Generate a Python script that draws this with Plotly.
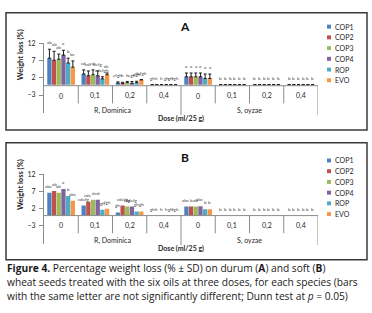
import plotly.graph_objects as go

W, H = 372, 313

categories = ["0", "0,1", "0,2", "0,4", "0", "0,1", "0,2", "0,4"]
groups = ["R, Dominica", "S, oyzae"]
series = ["COP1", "COP2", "COP3", "COP4", "ROP", "EVO"]
colors = ["#4F81BD", "#C0504D", "#9BBB59", "#8064A2", "#4BACC6", "#F79646"]
yticks = [-3, 2, 7, 12]

# Panel A (durum) values and +SD
a_cop1 = [7.7, 3.1, 0.5, 0, 2.3, 0, 0, 0]
a_cop2 = [7.1, 2.6, 0.4, 0, 2.3, 0, 0, 0]
a_cop3 = [7.4, 2.9, 0.6, 0, 2.3, 0, 0, 0]
a_cop4 = [8.6, 2.6, 0.4, 0, 2.3, 0, 0, 0]
a_rop = [6.3, 1.7, 0.6, 0, 1.8, 0, 0, 0]
a_evo = [5.1, 2.9, 1.4, 0, 1.8, 0, 0, 0]

a_sd_cop1 = [2.6, 1.2, 0.3, 0, 1.1, 0, 0, 0]
a_sd_cop2 = [2.6, 1.4, 0.3, 0, 1.1, 0, 0, 0]
a_sd_cop3 = [1.5, 1.4, 0.3, 0, 1.1, 0, 0, 0]
a_sd_cop4 = [1.4, 1.4, 0.5, 0, 1.1, 0, 0, 0]
a_sd_rop = [1.4, 0.6, 0.4, 0, 1.3, 0, 0, 0]
a_sd_evo = [1.8, 0.5, 0.1, 0, 1.3, 0, 0, 0]

a_let_cop1 = ["ab", "cd", "efgh", "gh", "a", "b", "b", "b"]
a_let_cop2 = ["ab", "cdf", "h", "h", "a", "b", "b", "b"]
a_let_cop3 = ["ab", "d", "h", "h", "a", "b", "b", "b"]
a_let_cop4 = ["a", "defg", "egh", "gh", "a", "b", "b", "b"]
a_let_rop = ["b", "cdefgh", "egh", "gh", "a", "b", "b", "b"]
a_let_evo = ["bc", "de", "defgh", "fgh", "a", "b", "b", "b"]

# Panel B (soft) values
b_cop1 = [6.6, 2.9, 0.9, 0, 2.6, 0, 0, 0]
b_cop2 = [7.1, 4.0, 2.9, 0, 2.6, 0, 0, 0]
b_cop3 = [6.6, 4.6, 2.6, 0, 2.6, 0, 0, 0]
b_cop4 = [7.7, 4.6, 2.6, 0, 2.7, 0, 0, 0]
b_rop = [5.7, 1.7, 1.2, 0, 1.8, 0, 0, 0]
b_evo = [4.3, 2.0, 1.2, 0, 1.8, 0, 0, 0]

b_let_cop1 = ["abc", "cdefg", "gh", "gh", "abc", "b", "b", "b"]
b_let_cop2 = ["ab", "cde", "cdefg", "h", "b", "b", "b", "b"]
b_let_cop3 = ["ab", "d", "cfg", "h", "ab", "b", "b", "b"]
b_let_cop4 = ["a", "cd", "cdefg", "h", "abc", "b", "b", "b"]
b_let_rop = ["b", "gh", "gh", "gh", "b", "b", "b", "b"]
b_let_evo = ["abc", "fgh", "gh", "fgh", "b", "b", "b", "b"]

A_vals = [a_cop1, a_cop2, a_cop3, a_cop4, a_rop, a_evo]
A_sds = [a_sd_cop1, a_sd_cop2, a_sd_cop3, a_sd_cop4, a_sd_rop, a_sd_evo]
A_lets = [a_let_cop1, a_let_cop2, a_let_cop3, a_let_cop4, a_let_rop, a_let_evo]
B_vals = [b_cop1, b_cop2, b_cop3, b_cop4, b_rop, b_evo]
B_lets = [b_let_cop1, b_let_cop2, b_let_cop3, b_let_cop4, b_let_rop, b_let_evo]

FONT = "Lato"
AXC = "#8c8c8c"
TXT = "#262626"
BARGAP = 0.18


def px(x):
    return x / W


def py(y):
    return 1 - y / H


fig = go.Figure()
annotations = []
shapes = []
ncat = len(categories)
xs = list(range(ncat))
gw = 1 - BARGAP


def note(**kw):
    kw.setdefault("showarrow", False)
    kw.setdefault("yanchor", "middle")
    kw.setdefault("xanchor", "center")
    annotations.append(kw)


def panel(vals, sds, lets, xa, ya, top, title, title_y, leg_y0):
    for i, name in enumerate(series):
        err = None
        if sds is not None:
            err = dict(type="data", symmetric=False,
                       array=[e if e > 0 else None for e in sds[i]],
                       arrayminus=[0 if e > 0 else None for e in sds[i]],
                       color="#1a1a1a", thickness=1, width=1.5)
        fig.add_trace(go.Bar(x=xs, y=vals[i], name=name, marker_color=colors[i],
                             marker_line_width=0, error_y=err, showlegend=False,
                             xaxis=xa, yaxis=ya))
        for k in range(ncat):
            tip = vals[i][k] + (sds[i][k] if sds is not None else 0)
            xc = k - gw / 2 + (i + 0.5) * gw / len(series)
            note(x=xc, y=tip, xref=xa, yref=ya, text=lets[i][k], yanchor="bottom", yshift=2,
                 font=dict(size=4.5, color="#404040", family=FONT))
    zero_y = top + 74
    for k, c in enumerate(categories):
        note(x=k, y=py(zero_y + 10), xref=xa, yref="paper", text=c,
             font=dict(size=7, color=TXT, family=FONT))
    for g, gname in enumerate(groups):
        note(x=g * 4 + 1.5, y=py(zero_y + 25), xref=xa, yref="paper", text=gname,
             font=dict(size=7, color=TXT, family=FONT))
    note(x=px(181), y=py(zero_y + 33), xref="paper", yref="paper",
         text="<b>Dose (ml/25 g)</b>", font=dict(size=7, color=TXT, family=FONT))
    shapes.append(dict(type="line", xref=xa, yref="paper", x0=-0.5, x1=ncat - 0.5,
                       y0=py(zero_y), y1=py(zero_y), line=dict(color=AXC, width=1)))
    for k in range(1, ncat + 1):
        long = (k % 4 == 0)
        shapes.append(dict(type="line", xref=xa, yref="paper", x0=k - 0.5, x1=k - 0.5,
                           y0=py(zero_y), y1=py(zero_y + (30 if long else 18)),
                           line=dict(color=AXC, width=1)))
    shapes.append(dict(type="rect", xref="paper", yref="paper", x0=px(6), x1=px(367),
                       y0=py(top + 119), y1=py(top), line=dict(color="#3a3a3a", width=1.5)))
    note(x=px(185), y=py(title_y), xref="paper", yref="paper", text="<b>%s</b>" % title,
         font=dict(size=12, color="#111111", family=FONT))
    note(x=px(20), y=py(top + 43), xref="paper", yref="paper",
         text="<b>Weight loss (%)</b>", textangle=-90,
         font=dict(size=7.5, color=TXT, family=FONT))
    for i, name in enumerate(series):
        yy = leg_y0 + i * 10.9
        shapes.append(dict(type="rect", xref="paper", yref="paper", x0=px(327), x1=px(331),
                           y0=py(yy + 2), y1=py(yy - 2), fillcolor=colors[i], line_width=0))
        note(x=px(333), y=py(yy), xref="paper", yref="paper", text=name, xanchor="left",
             font=dict(size=7, color=TXT, family=FONT))


panel(A_vals, A_sds, A_lets, "x", "y", 8, "A", 22, 22)
panel(B_vals, None, B_lets, "x2", "y2", 140, "B", 155, 158)

yax = dict(range=[-8.29, 12], tickvals=yticks, ticks="outside", ticklen=4, tickcolor=AXC,
           showline=True, linecolor=AXC, linewidth=1, showgrid=False, zeroline=False,
           tickfont=dict(size=7, color=TXT, family=FONT), ticklabelstandoff=2)
xax = dict(range=[-0.5, ncat - 0.5], visible=False, domain=[px(44), px(318)])

cap_lines = [
    "<b>Figure 4.</b> Percentage weight loss (% ± SD) on durum (<b>A</b>) and soft (<b>B</b>)",
    "wheat seeds treated with the six oils at three doses, for each species (bars",
    "with the same letter are not significantly different; Dunn test at <i>p</i> = 0.05)",
]
for j, line in enumerate(cap_lines):
    note(x=px(5), y=py(267 + j * 14.5), xref="paper", yref="paper", text=line,
         xanchor="left", font=dict(size=10.2, color="#1a1a1a", family="Open Sans"))

fig.update_layout(
    width=W, height=H, autosize=False, margin=dict(l=0, r=0, t=0, b=0),
    paper_bgcolor="white", plot_bgcolor="rgba(0,0,0,0)",
    barmode="group", bargap=BARGAP, bargroupgap=0.08,
    xaxis=dict(xax, anchor="y"),
    yaxis=dict(yax, domain=[py(110), py(39)], anchor="x"),
    xaxis2=dict(xax, anchor="y2"),
    yaxis2=dict(yax, domain=[py(243), py(172)], anchor="x2"),
    annotations=annotations, shapes=shapes,
)

fig.write_html("out.html", config={"displayModeBar": False, "staticPlot": True},
               post_script="document.body.style.margin='0';document.body.style.overflow='hidden';")
